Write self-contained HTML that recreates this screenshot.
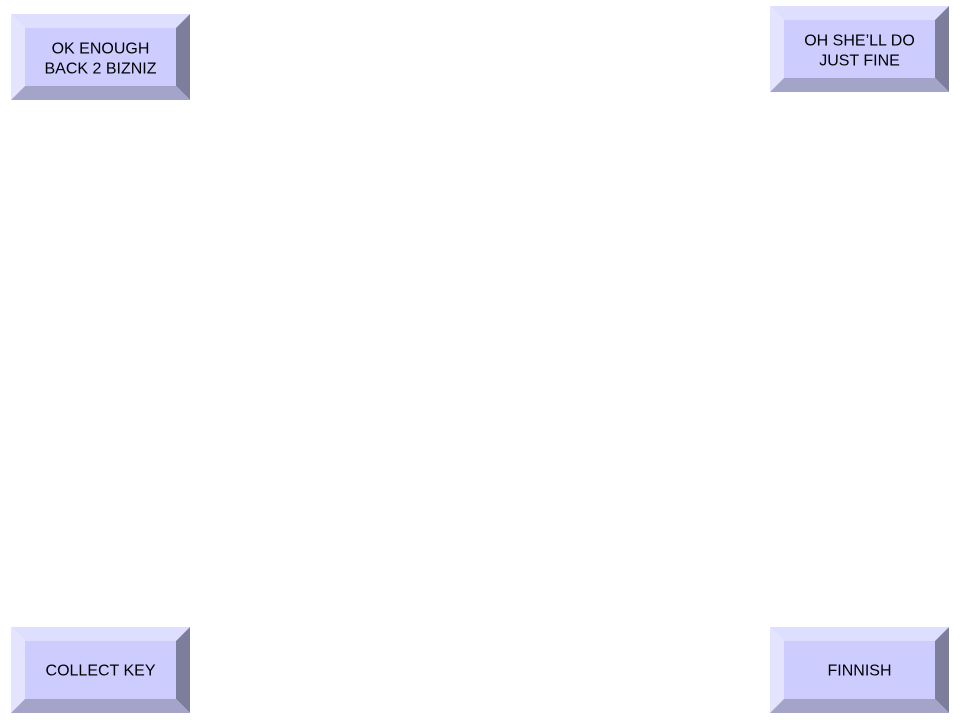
<!DOCTYPE html>
<html><head><meta charset="utf-8"><style>
html,body{margin:0;padding:0;background:#fff;}
svg{display:block;}
text{font-family:"Liberation Sans",sans-serif;font-size:16px;fill:#000;}
</style></head><body>
<svg width="960" height="720" viewBox="0 0 960 720">
<defs>
<g id="btn">
<polygon points="0,0 179,0 165,14 14,14" fill="#dedeff"/>
<polygon points="0,0 14,14 14,72 0,86" fill="#e4e4ff"/>
<polygon points="179,0 179,86 165,72 165,14" fill="#7d7d9c"/>
<polygon points="0,86 14,72 165,72 179,86" fill="#a4a4c8"/>
<rect x="14" y="14" width="151" height="58" fill="#ccccff"/>
</g>
</defs>
<use href="#btn" x="11" y="14"/>
<use href="#btn" x="770" y="6"/>
<use href="#btn" x="11" y="627"/>
<use href="#btn" x="770" y="627"/>
<text x="100.5" y="53.5" text-anchor="middle">OK ENOUGH</text>
<text x="100.5" y="73.5" text-anchor="middle">BACK 2 BIZNIZ</text>
<text x="859.5" y="45.5" text-anchor="middle">OH SHE’LL DO</text>
<text x="859.5" y="65.5" text-anchor="middle">JUST FINE</text>
<text x="100.5" y="675.5" text-anchor="middle">COLLECT KEY</text>
<text x="859.5" y="675.5" text-anchor="middle">FINNISH</text>
</svg>
</body></html>
